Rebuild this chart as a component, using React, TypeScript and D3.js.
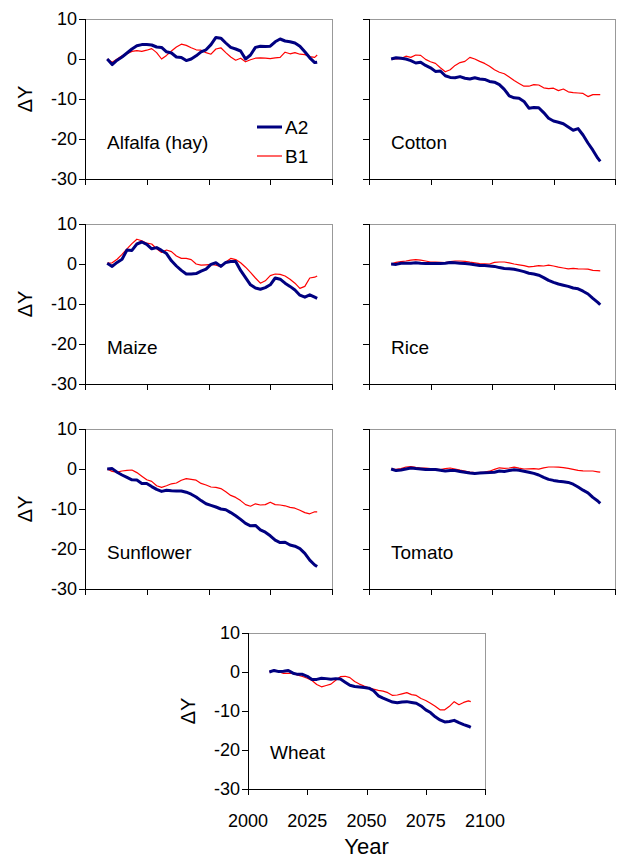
import React from "react";
import * as d3 from "d3";

const years = [2009, 2011, 2013, 2015, 2017, 2019, 2021, 2023, 2025, 2027, 2029, 2031, 2033, 2035, 2037, 2039, 2041, 2043, 2045, 2047, 2049, 2051, 2053, 2055, 2057, 2059, 2061, 2063, 2065, 2067, 2069, 2071, 2073, 2075, 2077, 2079, 2081, 2083, 2085, 2087, 2089, 2091, 2093, 2094];

const alfalfaA2 = [0, -1.4, -0.3, 0.5, 1.5, 2.5, 3.3, 3.6, 3.6, 3.5, 3.0, 2.9, 1.8, 1.5, 0.5, 0.4, -0.4, 0.0, 0.8, 1.8, 2.3, 3.6, 5.4, 5.2, 4.0, 2.9, 2.5, 2.0, 0.0, 1.0, 2.9, 3.2, 3.1, 3.2, 4.3, 5.0, 4.5, 4.3, 4.0, 3.2, 1.8, 0.3, -0.9, -0.8];
const alfalfaB1 = [0, -0.8, 0.0, 0.8, 1.3, 1.9, 2.1, 1.9, 2.2, 2.6, 1.6, 0.0, 0.9, 2.0, 3.0, 3.7, 3.4, 2.8, 2.3, 2.2, 1.6, 1.2, 2.5, 2.8, 1.6, 0.5, -0.3, 0.2, -0.7, -0.2, 0.2, 0.3, 0.2, 0.1, 0.3, 0.4, 1.7, 1.3, 1.6, 1.2, 1.1, 0.6, 0.4, 1.0];

const cottonA2 = [0, 0.3, 0.2, 0.0, -0.4, -1.0, -0.8, -1.6, -2.2, -3.1, -3.0, -4.2, -4.6, -4.7, -4.4, -4.8, -5.0, -4.7, -5.0, -5.1, -5.6, -5.8, -6.4, -7.6, -9.2, -9.7, -9.8, -10.6, -12.3, -12.1, -12.2, -13.4, -14.8, -15.5, -15.8, -16.2, -17.0, -17.8, -17.4, -19.0, -21.0, -22.8, -24.8, -25.6];
const cottonB1 = [0, 0, 0.1, 0.7, 0.4, 1.0, 0.9, -0.1, -0.7, -1.1, -2.2, -3.2, -2.7, -1.6, -0.9, -0.6, 0.4, 0.0, -0.6, -1.1, -1.8, -2.7, -3.3, -3.7, -4.5, -5.4, -6.1, -6.8, -6.8, -6.4, -6.5, -7.2, -7.4, -7.3, -7.9, -7.5, -8.2, -8.4, -8.5, -8.6, -9.4, -8.9, -8.9, -8.9];

const maizeA2 = [0.2, -0.6, 0.4, 1.2, 3.5, 3.4, 5.0, 5.5, 4.9, 3.8, 4.1, 3.4, 2.6, 0.8, -0.5, -1.6, -2.5, -2.5, -2.4, -1.8, -1.3, -0.1, 0.3, -0.6, 0.4, 0.6, 0.6, -1.6, -3.4, -5.2, -6.0, -6.3, -5.9, -5.2, -3.5, -3.8, -4.8, -5.6, -6.5, -7.8, -8.3, -7.7, -8.3, -8.6];
const maizeB1 = [0.2, 0.3, 1.2, 2.4, 3.8, 5.1, 6.2, 5.8, 5.2, 5.0, 3.8, 2.9, 3.5, 3.1, 2.0, 1.4, 1.4, 1.1, 0.0, -0.3, -0.2, -0.1, -0.3, -0.7, 0.5, 1.4, 1.1, 0.3, -0.8, -2.1, -3.5, -4.8, -4.2, -2.9, -2.5, -2.6, -3.0, -3.8, -4.8, -6.1, -5.6, -3.5, -3.3, -3.0];

const riceA2 = [0, -0.1, 0.2, 0.2, 0.2, 0.3, 0.2, 0.15, 0.15, 0.1, 0.1, 0.2, 0.35, 0.3, 0.2, 0.1, 0.0, -0.2, -0.4, -0.4, -0.5, -0.6, -0.9, -1.1, -1.2, -1.3, -1.6, -1.9, -2.3, -2.5, -2.8, -3.4, -4.1, -4.6, -5.0, -5.3, -5.6, -6.0, -6.2, -6.8, -7.5, -8.6, -9.6, -10.2];
const riceB1 = [0, 0.4, 0.6, 0.75, 0.95, 1.1, 0.95, 0.75, 0.5, 0.45, 0.4, 0.35, 0.6, 0.75, 0.75, 0.65, 0.45, 0.3, 0.1, 0.05, 0.0, 0.4, 0.5, 0.5, 0.3, 0.0, -0.2, -0.4, -0.7, -0.6, -0.4, -0.5, -0.3, -0.5, -0.8, -1.0, -1.2, -1.1, -1.2, -1.25, -1.3, -1.6, -1.65, -1.7];

const sunflowerA2 = [0, 0.1, -0.8, -1.5, -2.1, -2.7, -2.75, -3.6, -3.6, -4.4, -5.1, -5.6, -5.3, -5.45, -5.5, -5.5, -5.8, -6.3, -7.0, -7.9, -8.7, -9.1, -9.5, -10.0, -10.2, -10.9, -11.7, -12.6, -13.6, -14.2, -14.1, -15.2, -15.8, -16.7, -17.8, -18.4, -18.3, -19.0, -19.3, -19.9, -21.1, -22.8, -24.0, -24.4];
const sunflowerB1 = [0, -0.6, -0.8, -0.5, -0.35, -0.25, -0.9, -1.8, -2.7, -3.1, -4.2, -4.6, -4.2, -3.7, -3.5, -2.8, -2.4, -2.6, -2.8, -3.6, -4.0, -4.5, -4.6, -4.9, -5.7, -6.6, -7.1, -7.9, -8.9, -9.3, -8.7, -9.0, -8.9, -8.3, -8.9, -9.0, -9.2, -9.6, -9.8, -10.3, -10.9, -11.2, -10.7, -10.7];

const tomatoA2 = [0, -0.4, -0.25, 0.0, 0.25, 0.1, 0.0, -0.1, -0.1, -0.1, -0.3, -0.5, -0.35, -0.4, -0.6, -0.8, -1.0, -1.1, -1.0, -0.95, -0.9, -0.8, -0.5, -0.6, -0.4, -0.2, -0.3, -0.55, -0.8, -1.1, -1.5, -2.1, -2.6, -2.85, -3.05, -3.2, -3.35, -3.8, -4.5, -5.3, -5.95, -7.1, -8.0, -8.6];
const tomatoB1 = [0, -0.1, 0.1, 0.5, 0.6, 0.4, 0.25, 0.2, 0.1, 0.0, -0.15, 0.1, 0.25, 0.0, -0.3, -0.5, -0.75, -0.9, -0.85, -0.75, -0.55, -0.1, 0.3, 0.15, 0.25, 0.45, 0.2, 0.0, 0.05, 0.1, -0.05, 0.3, 0.5, 0.5, 0.45, 0.35, 0.15, -0.1, -0.35, -0.45, -0.5, -0.5, -0.7, -0.8];

const wheatA2 = [0, 0.4, 0.1, 0.2, 0.4, -0.3, -0.6, -0.6, -1.1, -1.9, -1.9, -1.6, -1.7, -1.85, -1.7, -1.8, -2.6, -3.4, -3.7, -3.85, -4.0, -4.15, -4.8, -6.1, -6.7, -7.2, -7.7, -7.9, -7.7, -7.6, -7.8, -8.0, -8.7, -9.7, -10.4, -11.5, -12.3, -12.8, -12.7, -12.4, -13.0, -13.5, -13.9, -14.2];
const wheatB1 = [0, 0.5, 0.1, -0.35, -0.35, -0.35, -0.8, -1.15, -1.6, -2.2, -3.2, -3.8, -3.45, -3.1, -2.1, -1.2, -1.1, -1.45, -2.45, -3.1, -3.6, -4.05, -4.4, -4.7, -4.9, -5.3, -6.0, -5.9, -5.6, -5.3, -5.8, -6.0, -6.8, -7.3, -8.0, -8.8, -9.7, -9.7, -8.8, -7.6, -8.4, -7.8, -7.4, -7.6];

const yTicks = [10, 0, -10, -20, -30];
const xTicks = [2000, 2025, 2050, 2075, 2100];
const seriesNames = ["A2", "B1"];

const A2_COLOR = "#000080";
const B1_COLOR = "#ff0000";
const FONT = "'Liberation Sans', Arial, Helvetica, sans-serif";

type PanelDef = {
  name: string;
  a2: number[];
  b1: number[];
  x0: number;
  x1: number;
  y0: number;
  y1: number;
  yLabels: boolean;
  xLabels: boolean;
  legend: boolean;
};

const panels: PanelDef[] = [
  { name: "Alfalfa (hay)", a2: alfalfaA2, b1: alfalfaB1, x0: 85, x1: 332, y0: 19, y1: 179, yLabels: true, xLabels: false, legend: true },
  { name: "Cotton", a2: cottonA2, b1: cottonB1, x0: 369, x1: 615, y0: 19, y1: 179, yLabels: false, xLabels: false, legend: false },
  { name: "Maize", a2: maizeA2, b1: maizeB1, x0: 85, x1: 332, y0: 224, y1: 384, yLabels: true, xLabels: false, legend: false },
  { name: "Rice", a2: riceA2, b1: riceB1, x0: 369, x1: 615, y0: 224, y1: 384, yLabels: false, xLabels: false, legend: false },
  { name: "Sunflower", a2: sunflowerA2, b1: sunflowerB1, x0: 85, x1: 332, y0: 429, y1: 589, yLabels: true, xLabels: false, legend: false },
  { name: "Tomato", a2: tomatoA2, b1: tomatoB1, x0: 369, x1: 615, y0: 429, y1: 589, yLabels: false, xLabels: false, legend: false },
  { name: "Wheat", a2: wheatA2, b1: wheatB1, x0: 248, x1: 485, y0: 633, y1: 789, yLabels: true, xLabels: true, legend: false },
];

function Panel({ p }: { p: PanelDef }) {
  const x = d3.scaleLinear().domain([2000, 2100]).range([p.x0, p.x1]);
  const y = d3.scaleLinear().domain([-30, 10]).range([p.y1, p.y0]);
  const line = d3
    .line<number>()
    .x((_, i) => x(years[i]))
    .y((d) => y(d));
  const midY = (p.y0 + p.y1) / 2;
  return (
    <g>
      <line x1={p.x0} x2={p.x1} y1={p.y0 + 0.5} y2={p.y0 + 0.5} stroke="#999" strokeWidth={1} />
      <line x1={p.x1 + 0.5} x2={p.x1 + 0.5} y1={p.y0} y2={p.y1} stroke="#999" strokeWidth={1} />
      <line x1={p.x0 + 0.5} x2={p.x0 + 0.5} y1={p.y0} y2={p.y1 + 0.5} stroke="#000" strokeWidth={1} />
      <line x1={p.x0} x2={p.x1 + 1} y1={p.y1 + 0.5} y2={p.y1 + 0.5} stroke="#000" strokeWidth={1} />
      {yTicks.map((t) => (
        <g key={"y" + t}>
          <line x1={p.x0 - 6} x2={p.x0} y1={Math.round(y(t)) + 0.5} y2={Math.round(y(t)) + 0.5} stroke="#000" />
          {p.yLabels && (
            <text x={p.x0 - 8} y={y(t)} dy="0.36em" textAnchor="end" fontSize={18} fontFamily={FONT} fill="#000">
              {t}
            </text>
          )}
        </g>
      ))}
      {xTicks.map((t) => (
        <g key={"x" + t}>
          <line x1={Math.round(x(t)) + 0.5} x2={Math.round(x(t)) + 0.5} y1={p.y1} y2={p.y1 + 6} stroke="#000" />
          {p.xLabels && (
            <text x={x(t)} y={p.y1 + 38} textAnchor="middle" fontSize={18} fontFamily={FONT} fill="#000">
              {t}
            </text>
          )}
        </g>
      ))}
      {p.yLabels && (
        <text
          transform={`translate(${p.x0 - 60},${midY}) rotate(-90)`}
          textAnchor="middle"
          dy="0.36em"
          fontSize={20}
          fontFamily={FONT}
          fill="#000"
        >
          ΔY
        </text>
      )}
      <path d={line(p.b1) || ""} fill="none" stroke={B1_COLOR} strokeWidth={1.2} strokeLinejoin="round" />
      <path d={line(p.a2) || ""} fill="none" stroke={A2_COLOR} strokeWidth={3} strokeLinejoin="round" />
      <text x={p.x0 + 22} y={p.y1 - 30} fontSize={19} fontFamily={FONT} fill="#000">
        {p.name}
      </text>
      {p.legend && (
        <g>
          <line x1={257} x2={282} y1={127} y2={127} stroke={A2_COLOR} strokeWidth={3} />
          <text x={285} y={134} fontSize={19} fontFamily={FONT} fill="#000">{seriesNames[0]}</text>
          <line x1={257} x2={282} y1={156} y2={156} stroke={B1_COLOR} strokeWidth={1.2} />
          <text x={285} y={163} fontSize={19} fontFamily={FONT} fill="#000">{seriesNames[1]}</text>
        </g>
      )}
      {p.xLabels && (
        <text x={(p.x0 + p.x1) / 2} y={854} textAnchor="middle" fontSize={22} fontFamily={FONT} fill="#000">
          Year
        </text>
      )}
    </g>
  );
}

export default function App() {
  return (
    <svg
      width={617}
      height={859}
      style={{ position: "absolute", left: 0, top: 0, background: "#fff" }}
    >
      <rect x={0} y={0} width={617} height={859} fill="#fff" />
      {panels.map((p) => (
        <Panel key={p.name} p={p} />
      ))}
    </svg>
  );
}
